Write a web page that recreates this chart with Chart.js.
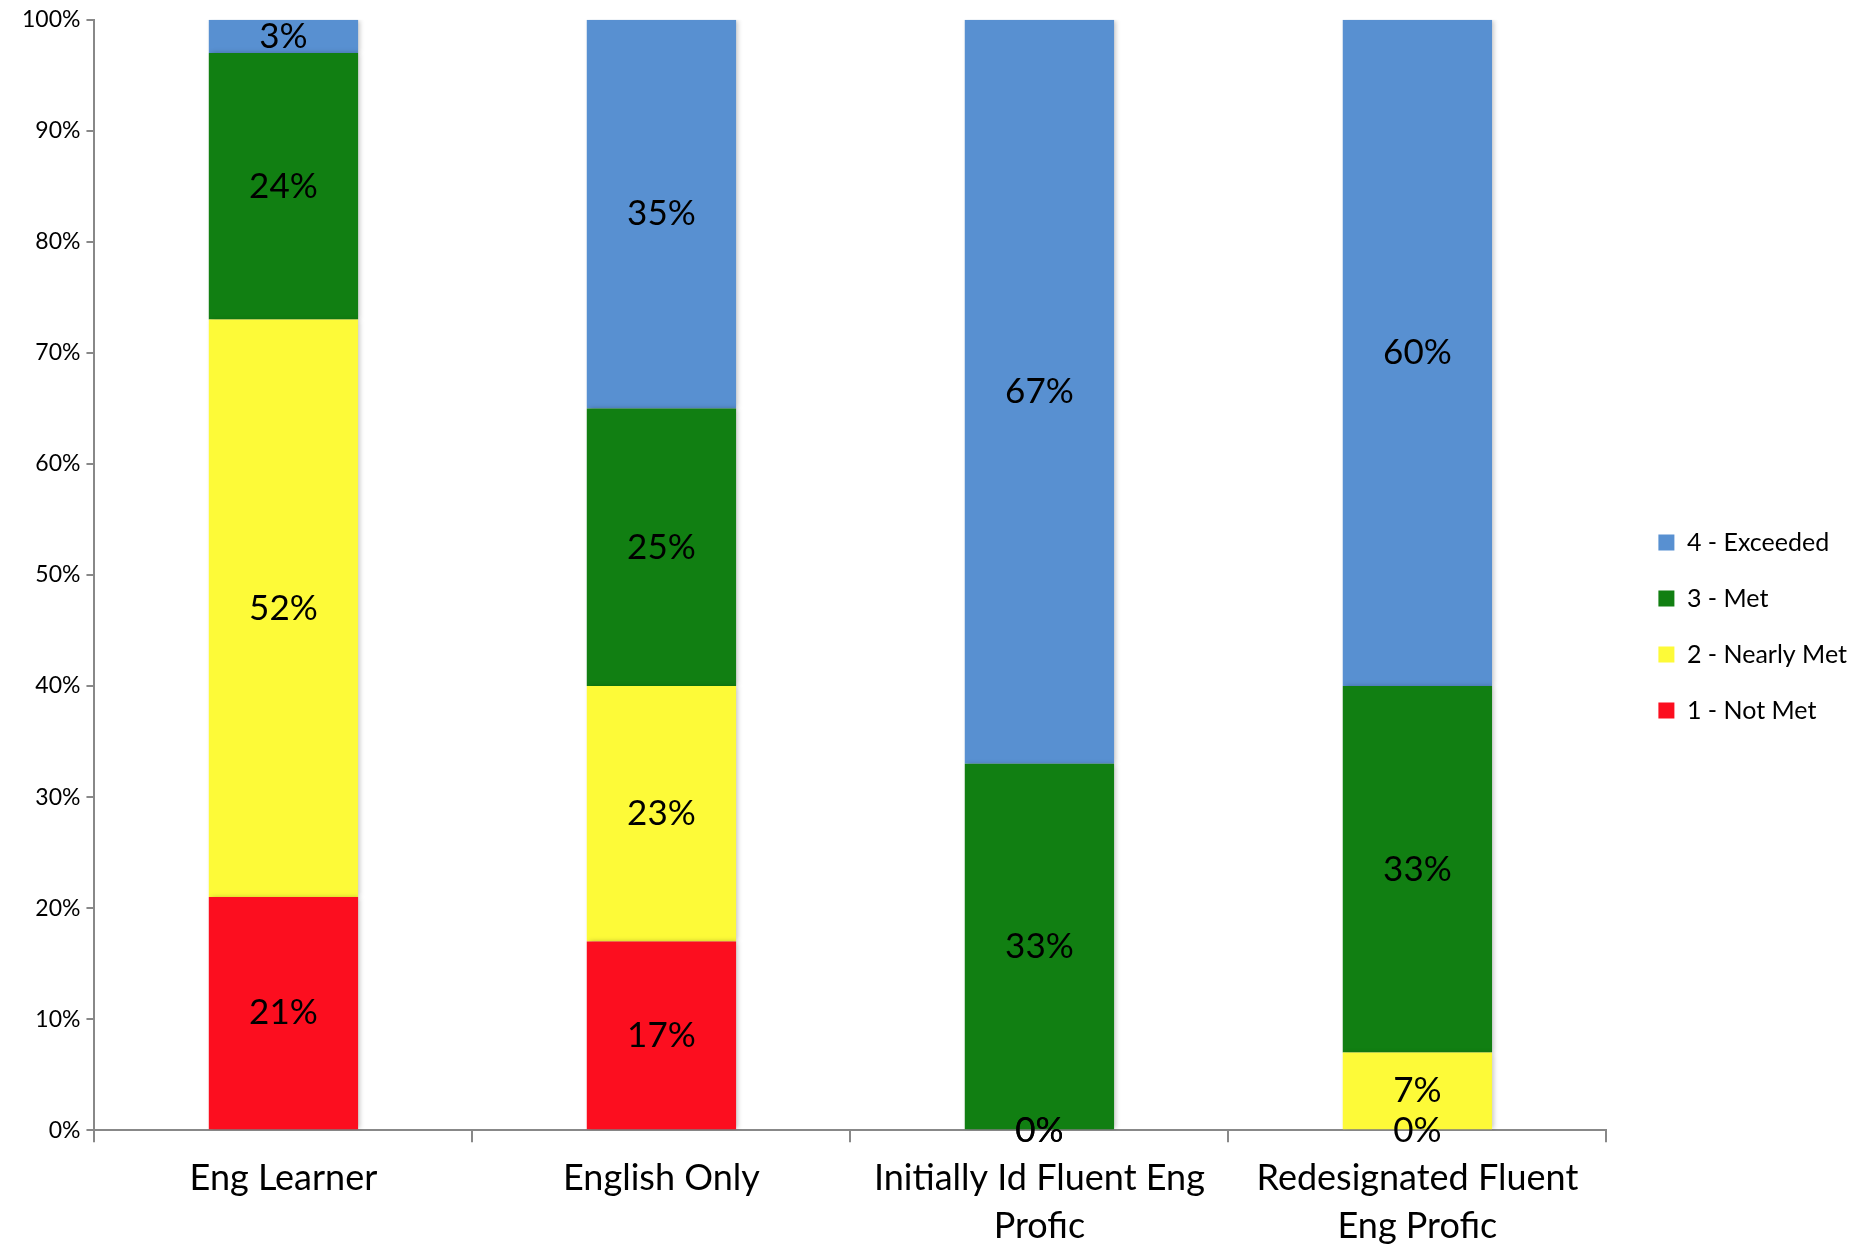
<!DOCTYPE html>
<html>
<head>
<meta charset="utf-8">
<script src="https://cdn.jsdelivr.net/npm/chart.js@4"></script>
<style>
    html, body { margin: 0; padding: 0; background: #fff; }
    #wrap { width: 1867px; height: 1245px; position: relative; }
</style>
</head>
<body>
<div id="wrap"><canvas id="levelsChart"></canvas></div>
<script>
const categories = [
    'Eng Learner',
    'English Only',
    ['Initially Id Fluent Eng', 'Profic'],
    ['Redesignated Fluent', 'Eng Profic']
];
const notMet = [21, 17, 0, 0];
const nearlyMet = [52, 23, 0, 7];
const met = [24, 25, 33, 33];
const exceeded = [3, 35, 67, 60];
const yTicks = [0, 10, 20, 30, 40, 50, 60, 70, 80, 90, 100];

const fontName = 'Lato, "Open Sans", sans-serif';
const legendGap = 21;

// draws value labels centred on each stacked segment
const segmentLabels = {
    id: 'segmentLabels',
    afterDatasetsDraw(chart) {
        const ctx = chart.ctx;
        ctx.save();
        ctx.font = '35px ' + fontName;
        ctx.fillStyle = '#000';
        ctx.textAlign = 'center';
        ctx.textBaseline = 'middle';
        chart.data.datasets.forEach((ds, i) => {
            const meta = chart.getDatasetMeta(i);
            meta.data.forEach((bar, j) => {
                const v = ds.data[j];
                ctx.fillText(v + '%', bar.x, (bar.y + bar.base) / 2);
            });
        });
        ctx.restore();
    }
};

// soft shadow behind the bars
const barShadow = {
    id: 'barShadow',
    beforeDatasetsDraw(chart) {
        const ctx = chart.ctx;
        ctx.save();
        ctx.shadowColor = 'rgba(0,0,0,0.25)';
        ctx.shadowBlur = 5;
        ctx.shadowOffsetX = 2;
        ctx.shadowOffsetY = 0;
    },
    afterDatasetsDraw(chart) {
        chart.ctx.restore();
    }
};

// leave some extra room between the plot and the legend
const legendSpacing = {
    id: 'legendSpacing',
    afterInit(chart) {
        const legend = chart.legend;
        const fit = legend.fit;
        legend.fit = function () {
            fit.call(this);
            this.width += legendGap;
        };
        const draw = legend.draw;
        legend.draw = function () {
            this.ctx.save();
            this.ctx.translate(legendGap, 0);
            draw.call(this);
            this.ctx.restore();
        };
    }
};

new Chart(document.getElementById('levelsChart'), {
    type: 'bar',
    data: {
        labels: categories,
        datasets: [
            { label: '1 - Not Met', data: notMet, backgroundColor: '#fc0e1f' },
            { label: '2 - Nearly Met', data: nearlyMet, backgroundColor: '#fdfa38' },
            { label: '3 - Met', data: met, backgroundColor: '#117f12' },
            { label: '4 - Exceeded', data: exceeded, backgroundColor: '#5890d1' }
        ]
    },
    options: {
        responsive: true,
        maintainAspectRatio: false,
        animation: false,
        layout: { padding: { top: 8, left: 16, right: 10, bottom: 0 } },
        datasets: {
            bar: { barPercentage: 0.79, categoryPercentage: 0.5, borderWidth: 0 }
        },
        plugins: {
            legend: {
                position: 'right',
                reverse: true,
                labels: {
                    boxWidth: 16,
                    boxHeight: 16,
                    padding: 31,
                    color: '#000',
                    font: { family: fontName, size: 25 }
                }
            },
            tooltip: { enabled: false }
        },
        scales: {
            x: {
                stacked: true,
                border: { color: '#888', width: 2 },
                grid: { display: true, drawOnChartArea: false, offset: true, color: '#888', lineWidth: 2, tickLength: 12 },
                ticks: { color: '#000', padding: 12, font: { family: fontName, size: 36, lineHeight: 1.33 }, maxRotation: 0 },
                afterFit: scale => { scale.height -= 17; }
            },
            y: {
                stacked: true,
                min: 0,
                max: 100,
                afterBuildTicks: axis => { axis.ticks = yTicks.map(v => ({ value: v })); },
                border: { color: '#888', width: 2 },
                grid: { display: true, drawOnChartArea: false, color: '#888', lineWidth: 2, tickLength: 8 },
                ticks: { color: '#000', padding: 6, font: { family: fontName, size: 23 }, callback: v => v + '%' }
            }
        }
    },
    plugins: [barShadow, segmentLabels, legendSpacing]
});
</script>
</body>
</html>
